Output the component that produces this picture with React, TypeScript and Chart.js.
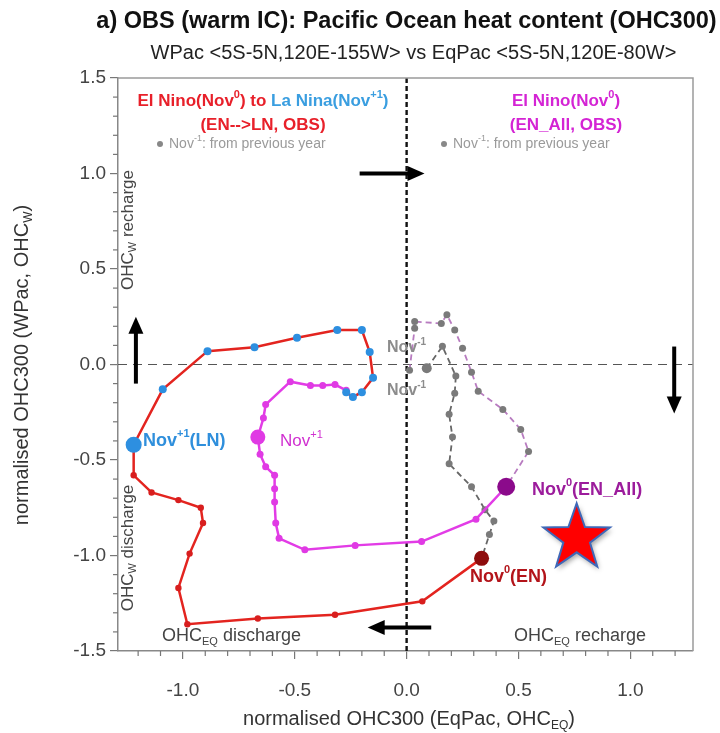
import React, { useEffect, useRef } from "react";
import { Chart, registerables } from "chart.js";

Chart.register(...registerables);

const FONT = "'Liberation Sans', Arial, Helvetica, sans-serif";

// ---- axes ----
const xMin = -1.29;
const xMax = 1.28;
const yMin = -1.5;
const yMax = 1.5;
const majorStep = 0.5;
const minorStep = 0.1;

// ---- EN -> LN composite (red line): Nov0(EN) at index 0, Nov+1(LN) at index 12 ----
const enX = [0.335, 0.07, -0.32, -0.665, -0.98, -1.02, -0.97, -0.91, -0.92, -1.02, -1.14, -1.22,
  -1.22, -1.09, -0.89, -0.68, -0.49, -0.31, -0.2, -0.165, -0.15, -0.2, -0.24, -0.27];
const enY = [-1.015, -1.24, -1.31, -1.33, -1.36, -1.17, -0.99, -0.83, -0.75, -0.71, -0.67, -0.58,
  -0.42, -0.13, 0.07, 0.09, 0.14, 0.18, 0.18, 0.065, -0.07, -0.145, -0.17, -0.145];
const enNovP1 = 12;

// ---- EN: Nov-1 -> Nov0 (from previous year, grey dashed) ----
const enPreX = [0.09, 0.16, 0.22, 0.215, 0.19, 0.205, 0.19, 0.29, 0.35, 0.39, 0.37, 0.335];
const enPreY = [-0.02, 0.095, -0.06, -0.15, -0.26, -0.38, -0.52, -0.64, -0.76, -0.82, -0.89, -1.015];

// ---- EN_All composite (magenta): Nov0 at index 0, Nov+1 at index 12 ----
const allX = [0.445, 0.31, 0.067, -0.23, -0.455, -0.57, -0.585, -0.59, -0.59, -0.59, -0.63, -0.655,
  -0.665, -0.64, -0.63, -0.52, -0.43, -0.375, -0.32, -0.27];
const allY = [-0.64, -0.81, -0.927, -0.947, -0.97, -0.91, -0.83, -0.72, -0.65, -0.58, -0.535, -0.47,
  -0.38, -0.28, -0.21, -0.09, -0.11, -0.11, -0.105, -0.135];
const allNovP1 = 12;

// ---- EN_All: Nov-1 -> Nov0 ----
const allPreX = [0.013, 0.036, 0.036, 0.155, 0.18, 0.215, 0.25, 0.29, 0.32, 0.43, 0.51, 0.545, 0.445];
const allPreY = [-0.03, 0.19, 0.225, 0.215, 0.26, 0.18, 0.085, -0.04, -0.14, -0.235, -0.34, -0.455, -0.64];

// ---- star marker ----
const starX = [0.76];
const starY = [-0.91];

// ---- direction arrows (start -> tip) ----
const arrowX0 = [-0.21, 1.196, 0.11, -1.21];
const arrowY0 = [1.0, 0.094, -1.377, -0.1];
const arrowX1 = [0.08, 1.196, -0.174, -1.21];
const arrowY1 = [1.0, -0.257, -1.377, 0.25];

const pts = (xs: number[], ys: number[]) => xs.map((x, i) => ({ x, y: ys[i] }));

type Seg = { t: string; c?: string; s?: "sup" | "sub" };

function drawRich(
  ctx: CanvasRenderingContext2D,
  segs: Seg[],
  x: number,
  y: number,
  o: { size: number; bold?: boolean; align?: "left" | "center" | "right"; color: string }
) {
  const w = o.bold ? "bold " : "";
  const fontFor = (s?: string) => `${w}${s ? Math.round(o.size * 0.62) : o.size}px ${FONT}`;
  let total = 0;
  const widths = segs.map((sg) => {
    ctx.font = fontFor(sg.s);
    const m = ctx.measureText(sg.t).width;
    total += m;
    return m;
  });
  let cx = o.align === "center" ? x - total / 2 : o.align === "right" ? x - total : x;
  ctx.textBaseline = "middle";
  ctx.textAlign = "left";
  segs.forEach((sg, i) => {
    ctx.font = fontFor(sg.s);
    ctx.fillStyle = sg.c || o.color;
    const dy = sg.s === "sup" ? -o.size * 0.38 : sg.s === "sub" ? o.size * 0.32 : 0;
    ctx.fillText(sg.t, cx, y + dy);
    cx += widths[i];
  });
}

const RED = "#e8202a";
const BLUE = "#3a9ee0";
const MAG = "#d424d4";
const GREY = "#9a9a9a";

const decor = {
  id: "decor",
  beforeDatasetsDraw(chart: any) {
    const { ctx, chartArea: a, scales } = chart;
    const xs = scales.x;
    const ys = scales.y;
    ctx.save();
    // zero lines
    const y0 = ys.getPixelForValue(0);
    ctx.strokeStyle = "#555";
    ctx.lineWidth = 1.2;
    ctx.setLineDash([9, 6]);
    ctx.beginPath();
    ctx.moveTo(a.left, y0);
    ctx.lineTo(a.right, y0);
    ctx.stroke();
    const x0 = xs.getPixelForValue(0);
    ctx.strokeStyle = "#111";
    ctx.lineWidth = 2.4;
    ctx.setLineDash([5, 3]);
    ctx.beginPath();
    ctx.moveTo(x0, a.top);
    ctx.lineTo(x0, a.bottom);
    ctx.stroke();
    ctx.setLineDash([]);
    // box
    ctx.strokeStyle = "#9a9a9a";
    ctx.lineWidth = 1.5;
    ctx.beginPath();
    ctx.moveTo(a.left, a.top);
    ctx.lineTo(a.right, a.top);
    ctx.lineTo(a.right, a.bottom);
    ctx.stroke();
    // minor ticks
    ctx.strokeStyle = "#777";
    ctx.lineWidth = 1.2;
    for (let k = Math.ceil(xMin / minorStep); k <= Math.floor(xMax / minorStep); k++) {
      if (k % 5 === 0) continue;
      const px = xs.getPixelForValue(k * minorStep);
      ctx.beginPath();
      ctx.moveTo(px, a.bottom);
      ctx.lineTo(px, a.bottom + 5);
      ctx.stroke();
    }
    for (let k = Math.ceil(yMin / minorStep); k <= Math.floor(yMax / minorStep); k++) {
      if (k % 5 === 0) continue;
      const py = ys.getPixelForValue(k * minorStep);
      ctx.beginPath();
      ctx.moveTo(a.left, py);
      ctx.lineTo(a.left - 5, py);
      ctx.stroke();
    }
    ctx.restore();
  },
  afterDatasetsDraw(chart: any) {
    const { ctx, scales } = chart;
    const xs = scales.x;
    const ys = scales.y;
    ctx.save();
    // arrows
    for (let i = 0; i < arrowX0.length; i++) {
      const p0x = xs.getPixelForValue(arrowX0[i]);
      const p0y = ys.getPixelForValue(arrowY0[i]);
      const p1x = xs.getPixelForValue(arrowX1[i]);
      const p1y = ys.getPixelForValue(arrowY1[i]);
      const len = Math.hypot(p1x - p0x, p1y - p0y);
      const ux = (p1x - p0x) / len;
      const uy = (p1y - p0y) / len;
      const hl = 17;
      const hw = 7.5;
      const bx = p1x - ux * hl;
      const by = p1y - uy * hl;
      ctx.strokeStyle = "#000";
      ctx.lineWidth = 4;
      ctx.beginPath();
      ctx.moveTo(p0x, p0y);
      ctx.lineTo(bx + ux * 2, by + uy * 2);
      ctx.stroke();
      ctx.fillStyle = "#000";
      ctx.beginPath();
      ctx.moveTo(p1x, p1y);
      ctx.lineTo(bx - uy * hw, by + ux * hw);
      ctx.lineTo(bx + uy * hw, by - ux * hw);
      ctx.closePath();
      ctx.fill();
    }
    // star
    for (let i = 0; i < starX.length; i++) {
      const cx = xs.getPixelForValue(starX[i]);
      const cy = ys.getPixelForValue(starY[i]);
      const R = 35;
      const r = 14;
      ctx.save();
      ctx.shadowColor = "rgba(0,0,0,0.35)";
      ctx.shadowBlur = 5;
      ctx.shadowOffsetX = 2;
      ctx.shadowOffsetY = 3;
      ctx.beginPath();
      for (let k = 0; k < 10; k++) {
        const ang = -Math.PI / 2 + (k * Math.PI) / 5;
        const rr = k % 2 === 0 ? R : r;
        const px = cx + rr * Math.cos(ang);
        const py = cy + rr * Math.sin(ang);
        if (k === 0) ctx.moveTo(px, py);
        else ctx.lineTo(px, py);
      }
      ctx.closePath();
      ctx.fillStyle = "#ff0000";
      ctx.fill();
      ctx.shadowColor = "transparent";
      ctx.strokeStyle = "#3f68b8";
      ctx.lineWidth = 2;
      ctx.stroke();
      ctx.restore();
    }
    ctx.restore();
  },
  afterDraw(chart: any) {
    const { ctx, chartArea: a } = chart;
    ctx.save();
    const midX = (a.left + a.right) / 2;
    drawRich(ctx, [{ t: "a) OBS (warm IC): Pacific Ocean heat content (OHC300)" }], midX + 1, 22, {
      size: 23.5, bold: true, align: "center", color: "#111",
    });
    drawRich(ctx, [{ t: "WPac <5S-5N,120E-155W> vs EqPac <5S-5N,120E-80W>" }], midX + 8, 53, {
      size: 20, align: "center", color: "#222",
    });
    // legend-like annotations
    drawRich(ctx, [
      { t: "El Nino(Nov", c: RED }, { t: "0", c: RED, s: "sup" }, { t: ") to ", c: RED },
      { t: "La Nina(Nov", c: BLUE }, { t: "+1", c: BLUE, s: "sup" }, { t: ")", c: BLUE },
    ], 263, 101, { size: 17, bold: true, align: "center", color: RED });
    drawRich(ctx, [{ t: "(EN-->LN, OBS)" }], 263, 125, { size: 17, bold: true, align: "center", color: RED });
    drawRich(ctx, [{ t: "El Nino(Nov" }, { t: "0", s: "sup" }, { t: ")" }], 566, 101, {
      size: 17, bold: true, align: "center", color: MAG,
    });
    drawRich(ctx, [{ t: "(EN_All, OBS)" }], 566, 125, { size: 17, bold: true, align: "center", color: MAG });
    for (const bx of [160, 444]) {
      ctx.fillStyle = "#888";
      ctx.beginPath();
      ctx.arc(bx, 144, 3, 0, Math.PI * 2);
      ctx.fill();
      drawRich(ctx, [{ t: "Nov" }, { t: "-1", s: "sup" }, { t: ": from previous year" }], bx + 9, 144, {
        size: 14, color: GREY,
      });
    }
    // point labels
    drawRich(ctx, [{ t: "Nov" }, { t: "+1", s: "sup" }, { t: "(LN)" }], 143, 441, { size: 18, bold: true, color: "#2f8fdc" });
    drawRich(ctx, [{ t: "Nov" }, { t: "+1", s: "sup" }], 280, 441, { size: 17, color: "#d030d0" });
    drawRich(ctx, [{ t: "Nov" }, { t: "0", s: "sup" }, { t: "(EN_All)" }], 532, 490, { size: 18, bold: true, color: "#9c1c9c" });
    drawRich(ctx, [{ t: "Nov" }, { t: "0", s: "sup" }, { t: "(EN)" }], 470, 577, { size: 18, bold: true, color: "#b3141a" });
    drawRich(ctx, [{ t: "Nov" }, { t: "-1", s: "sup" }], 387, 348, { size: 16, bold: true, color: "#8c8c8c" });
    drawRich(ctx, [{ t: "Nov" }, { t: "-1", s: "sup" }], 387, 391, { size: 16, bold: true, color: "#8c8c8c" });
    // quadrant labels
    drawRich(ctx, [{ t: "OHC" }, { t: "EQ", s: "sub" }, { t: " discharge" }], 162, 636, { size: 18, color: "#444" });
    drawRich(ctx, [{ t: "OHC" }, { t: "EQ", s: "sub" }, { t: " recharge" }], 514, 636, { size: 18, color: "#444" });
    ctx.save();
    ctx.translate(128, 230);
    ctx.rotate(-Math.PI / 2);
    drawRich(ctx, [{ t: "OHC" }, { t: "W", s: "sub" }, { t: " recharge" }], 0, 0, { size: 17, align: "center", color: "#444" });
    ctx.restore();
    ctx.save();
    ctx.translate(128, 548);
    ctx.rotate(-Math.PI / 2);
    drawRich(ctx, [{ t: "OHC" }, { t: "W", s: "sub" }, { t: " discharge" }], 0, 0, { size: 17, align: "center", color: "#444" });
    ctx.restore();
    // axis titles
    drawRich(ctx, [{ t: "normalised OHC300 (EqPac, OHC" }, { t: "EQ", s: "sub" }, { t: ")" }], 409, 719, {
      size: 20, align: "center", color: "#333",
    });
    ctx.save();
    ctx.translate(22, 365);
    ctx.rotate(-Math.PI / 2);
    drawRich(ctx, [{ t: "normalised OHC300 (WPac, OHC" }, { t: "W", s: "sub" }, { t: ")" }], 0, 0, {
      size: 20, align: "center", color: "#333",
    });
    ctx.restore();
    ctx.restore();
  },
};

export default function App() {
  const ref = useRef<HTMLCanvasElement>(null);
  useEffect(() => {
    const canvas = ref.current;
    if (!canvas) return;
    const fmt = (v: any) => Number(v).toFixed(1);
    const chart = new Chart(canvas, {
      type: "scatter",
      data: {
        datasets: [
          {
            label: "EN -> LN",
            data: pts(enX, enY),
            showLine: true,
            borderColor: "#e3241f",
            borderWidth: 2.5,
            pointRadius: (c: any) => (c.dataIndex === 0 ? 7.5 : c.dataIndex === enNovP1 ? 8 : c.dataIndex > enNovP1 ? 4 : 3.2),
            pointBackgroundColor: (c: any) =>
              c.dataIndex === 0 ? "#8e0d0d" : c.dataIndex >= enNovP1 ? "#2d8fe0" : "#d81e1e",
            pointBorderWidth: 0,
            order: 0,
          },
          {
            label: "EN_All",
            data: pts(allX, allY),
            showLine: true,
            borderColor: "#e23ce6",
            borderWidth: 2.5,
            pointRadius: (c: any) => (c.dataIndex === 0 ? 9 : c.dataIndex === allNovP1 ? 7.5 : 3.5),
            pointBackgroundColor: (c: any) => (c.dataIndex === 0 ? "#8b0a8b" : "#e03ae4"),
            pointBorderWidth: 0,
            order: 1,
          },
          {
            label: "EN Nov-1",
            data: pts(enPreX, enPreY),
            showLine: true,
            borderColor: "#666",
            borderWidth: 1.8,
            borderDash: [6, 4],
            pointRadius: (c: any) => (c.dataIndex === 0 ? 5 : 3.5),
            pointBackgroundColor: "#7a7a7a",
            pointBorderWidth: 0,
            order: 2,
          },
          {
            label: "EN_All Nov-1",
            data: pts(allPreX, allPreY),
            showLine: true,
            borderColor: "#b87cc0",
            borderWidth: 1.8,
            borderDash: [6, 4],
            pointRadius: 3.5,
            pointBackgroundColor: "#7a7a7a",
            pointBorderWidth: 0,
            order: 3,
          },
        ],
      },
      options: {
        animation: false,
        responsive: false,
        devicePixelRatio: 1,
        events: [],
        layout: { padding: { top: 78, right: 27, left: 0, bottom: 0 } },
        plugins: { legend: { display: false }, tooltip: { enabled: false }, title: { display: false } },
        scales: {
          x: {
            type: "linear",
            min: xMin,
            max: xMax,
            afterFit: (s: any) => {
              s.height = 82;
            },
            ticks: {
              stepSize: majorStep,
              includeBounds: false,
              callback: fmt,
              font: { size: 19, family: FONT },
              color: "#444",
              padding: 20,
              maxRotation: 0,
            },
            grid: { drawOnChartArea: false, tickLength: 8, color: "#777", lineWidth: 1.2 },
            border: { color: "#888", width: 1.5 },
          },
          y: {
            type: "linear",
            min: yMin,
            max: yMax,
            afterFit: (s: any) => {
              s.width = 118;
            },
            ticks: {
              stepSize: majorStep,
              includeBounds: false,
              callback: fmt,
              font: { size: 19, family: FONT },
              color: "#444",
              padding: 4,
            },
            grid: { drawOnChartArea: false, tickLength: 8, color: "#777", lineWidth: 1.2 },
            border: { color: "#888", width: 1.5 },
          },
        },
      } as any,
      plugins: [decor],
    });
    return () => chart.destroy();
  }, []);
  return (
    <div style={{ position: "fixed", left: 0, top: 0, width: 720, height: 733, background: "#fff" }}>
      <canvas ref={ref} width={720} height={733} style={{ width: 720, height: 733, display: "block" }} />
    </div>
  );
}
